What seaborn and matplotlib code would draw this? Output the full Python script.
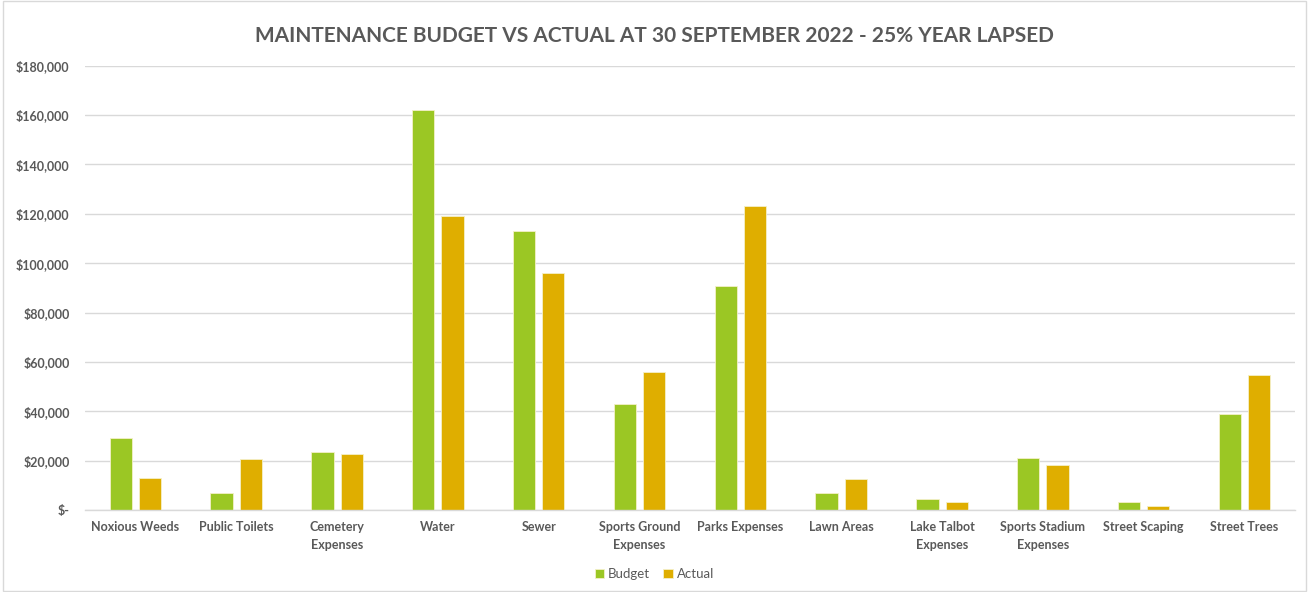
import matplotlib
matplotlib.use("Agg")
import matplotlib.pyplot as plt
import matplotlib.ticker as mticker
from matplotlib.patches import Rectangle
import seaborn as sns
import pandas as pd

categories = [
    "Noxious Weeds", "Public Toilets", "Cemetery\nExpenses", "Water", "Sewer",
    "Sports Ground\nExpenses", "Parks Expenses", "Lawn Areas", "Lake Talbot\nExpenses",
    "Sports Stadium\nExpenses", "Street Scaping", "Street Trees",
]
budget = [29000, 7000, 23400, 162100, 113200, 43000, 90800, 7000, 4300, 21100, 3200, 38800]
actual = [12800, 20700, 22800, 119100, 96000, 55800, 123000, 12600, 3200, 18200, 1600, 54700]
series_names = ["Budget", "Actual"]
y_ticks = list(range(0, 180001, 20000))

df = pd.DataFrame({
    "Category": categories * 2,
    "Value": budget + actual,
    "Series": [series_names[0]] * len(categories) + [series_names[1]] * len(categories),
})

sns.set_theme(style="white")
plt.rcParams["font.family"] = ["Lato", "DejaVu Sans"]

text_color = "#595959"
grid_color = "#D9D9D9"
palette = {"Budget": "#9BC724", "Actual": "#DFAE00"}

fig = plt.figure(figsize=(13.09, 5.92), dpi=100)
ax = fig.add_axes([0.0649, 0.1385, 0.9244, 0.7505])

sns.barplot(data=df, x="Category", y="Value", hue="Series", palette=palette,
            saturation=1, width=0.58, gap=0.24, ax=ax, legend=True,
            edgecolor="#F4F0C8", linewidth=0.6, errorbar=None)

ax.set_xlim(-0.5, len(categories) - 0.5)
ax.set_ylim(0, 180000)
ax.set_yticks(y_ticks)

def money(v, pos):
    if v == 0:
        return "$-"
    return f"${v:,.0f}"

ax.yaxis.set_major_formatter(mticker.FuncFormatter(money))
ax.grid(axis="y", color=grid_color, linewidth=1.0)
ax.set_axisbelow(True)
for s in ["top", "right", "left"]:
    ax.spines[s].set_visible(False)
ax.spines["bottom"].set_color(grid_color)
ax.spines["bottom"].set_linewidth(1.0)

ax.tick_params(axis="y", length=0, pad=11, labelsize=9, labelcolor=text_color)
ax.tick_params(axis="x", length=0, pad=8, labelsize=9, labelcolor=text_color)
for lbl in ax.get_yticklabels():
    lbl.set_fontweight("bold")
for lbl in ax.get_xticklabels():
    lbl.set_fontweight("bold")
    lbl.set_linespacing(1.6)
    lbl.set_verticalalignment("top")
ax.set_xlabel("")
ax.set_ylabel("")

fig.text(0.5, 0.940, "MAINTENANCE BUDGET VS ACTUAL AT 30 SEPTEMBER 2022 - 25% YEAR LAPSED",
         ha="center", va="center", fontsize=15, fontweight="bold", color=text_color)

handles, labels = ax.get_legend_handles_labels()
ax.legend(handles, labels, loc="center", bbox_to_anchor=(0.5, 0.03),
          bbox_transform=fig.transFigure, ncol=2, frameon=False,
          fontsize=9.5, labelcolor=text_color, handlelength=0.7, handleheight=0.7,
          handletextpad=0.3, columnspacing=1.0)

fig.patches.append(Rectangle((0.002, 0.002), 0.996, 0.996, transform=fig.transFigure,
                             fill=False, edgecolor=grid_color, linewidth=1.0))

fig.savefig("out.png", dpi=100, facecolor="white")
